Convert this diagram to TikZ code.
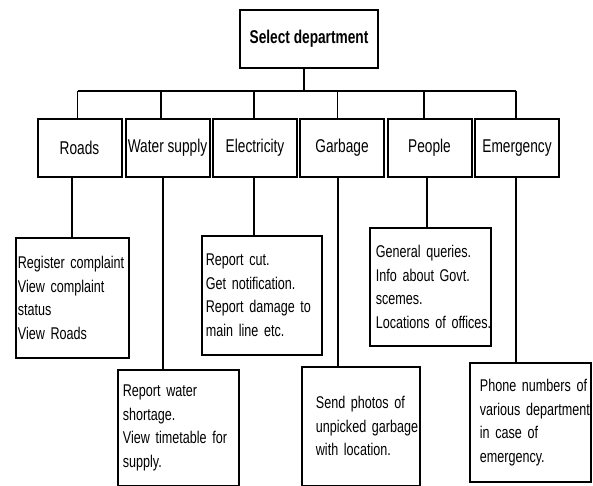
\documentclass[tikz,border=0pt]{standalone}
\usepackage{fontspec}
\setmainfont{Liberation Sans}[FakeStretch=0.74]
\usepackage{tikz}
\usetikzlibrary{positioning, calc}
\hyphenpenalty=10000
\exhyphenpenalty=10000
\tikzset{
  head/.style={rectangle, draw=black, line width=2pt, minimum width=138pt, minimum height=58pt, font=\fontsize{18.5}{22}\selectfont\bfseries},
  dept/.style={rectangle, draw=black, line width=2pt, minimum width=84pt, minimum height=58pt, inner sep=1pt, font=\fontsize{18.5}{22}\selectfont},
  info/.style 2 args={rectangle, draw=black, line width=1.8pt, anchor=north west, align=left, text width=#1, inner xsep=#2, inner ysep=0pt, font=\fontsize{17}{23.5}\selectfont},
  link/.style={line width=1.3pt},
  bus/.style={line width=2.2pt}
}

\begin{document}
\begin{tikzpicture}[x=1pt, y=1pt]
    \useasboundingbox (0,0) rectangle (593,-486);

    % Caja superior
    \node[head] (sel) at (309,-39) {Select department};
    \coordinate (hub) at (304,-91);

    % Departamentos
    \foreach \name/\cx/\label in {
        roads/79.5/Roads, water/167.5/Water supply, elec/255/Electricity,
        garb/342/Garbage, people/429.5/People, emerg/517/Emergency
    } {
        \node[dept] (\name) at (\cx,-148) {\label};
    }

    % Cajas de detalle
    \node[info={109pt}{2pt}, minimum height=120pt] (roadsInfo) at (15,-237)
        {Register complaint\\View complaint\\status\\View Roads};
    \node[info={111pt}{5pt}, minimum height=116pt] (waterInfo) at (117,-369)
        {Report water\\shortage.\\View timetable for\\supply.};
    \node[info={112pt}{4pt}, minimum height=119pt] (elecInfo) at (201,-235)
        {Report cut.\\Get notification.\\Report damage to\\main line etc.};
    \node[info={90pt}{14pt}, minimum height=119pt] (garbInfo) at (301,-366)
        {Send photos of\\unpicked~garbage\\with location.};
    \node[info={109pt}{6pt}, minimum height=118pt] (peopleInfo) at (369,-227)
        {General queries.\\Info about Govt.\\scemes.\\Locations~of~offices.};
    \node[info={101pt}{10pt}, minimum height=119pt] (emergInfo) at (469,-362)
        {Phone~numbers~of\\various~department\\in case of\\emergency.};

    % Conexiones
    \draw[link] (sel.south -| hub) -- (hub);
    \draw[bus] ($(roads.north |- hub)+(-2,0)$) -- ($(emerg.north |- hub)+(-1,0)$);
    \foreach \name/\up/\down in {
        roads/-2/-7.5, water/-6.5/-4.5, elec/-1/-1,
        garb/-4.5/-4, people/-5.5/-2.5, emerg/-1/-1
    } {
        \draw[link] ($(\name.north)+(\up,0)$) -- ($(\name.north |- hub)+(\up,0)$);
        \draw[link] ($(\name.south)+(\down,0)$) -- ($(\name.south |- \name Info.north)+(\down,0)$);
    }

\end{tikzpicture}
\end{document}
